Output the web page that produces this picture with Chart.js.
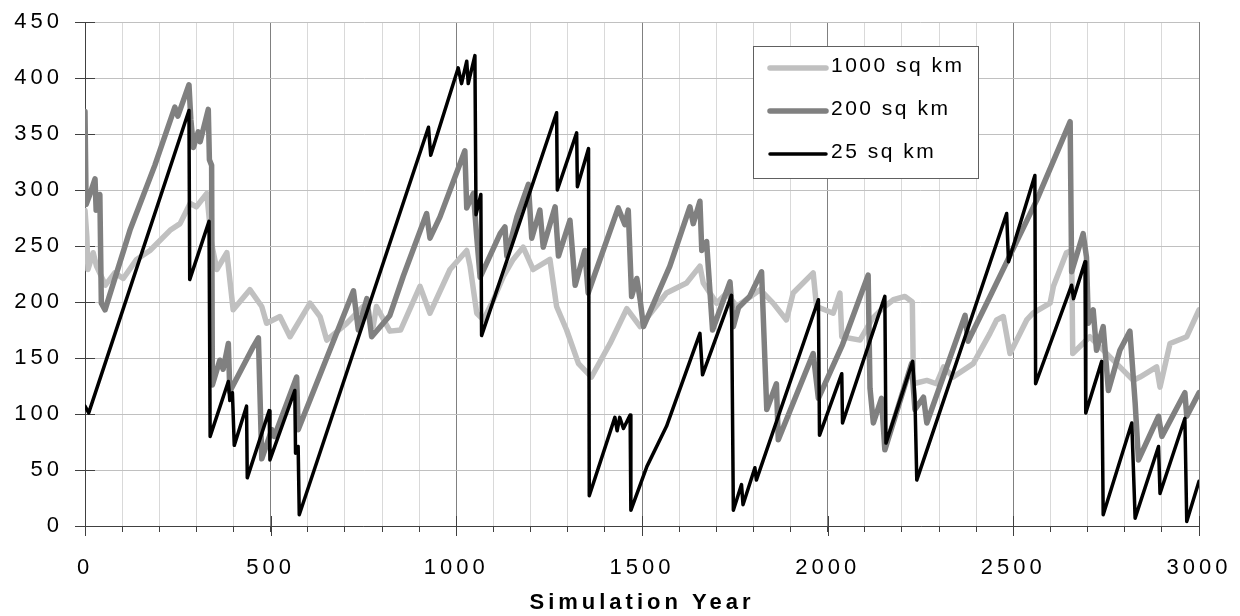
<!DOCTYPE html>
<html>
<head>
<meta charset="utf-8">
<script src="https://cdn.jsdelivr.net/npm/chart.js@4.4.1/dist/chart.umd.min.js"></script>
<style>
    html, body { margin: 0; padding: 0; background: #fff; }
    #wrap { width: 1240px; height: 616px; position: relative; }
</style>
</head>
<body>
<div id="wrap"><canvas id="simChart"></canvas></div>
<script>
// 1000 sq km
const years1000 = [0, 5, 8, 22, 31, 55, 80, 103, 139, 175, 229, 256, 283, 300, 328, 341, 355, 382, 399, 444,
    476, 489, 525, 552, 606, 633, 651, 705, 749, 776, 785, 821, 850, 902, 929, 983, 1028, 1037, 1055, 1073,
    1100, 1127, 1153, 1180, 1207, 1252, 1270, 1297, 1329, 1364, 1414, 1459, 1495, 1566, 1620, 1656, 1665, 1701, 1728, 1755,
    1818, 1853, 1889, 1907, 1961, 1970, 2015, 2033, 2038, 2087, 2120, 2150, 2177, 2208, 2228, 2231, 2267, 2293, 2312, 2338,
    2392, 2437, 2455, 2473, 2491, 2536, 2553, 2599, 2608, 2643, 2657, 2660, 2706, 2760, 2823, 2841, 2886, 2895, 2922, 2967, 3000];
const pop1000 = [282, 258, 229, 244, 232, 215, 226, 221, 238, 246, 264, 270, 288, 285, 297, 252, 229, 244, 193, 211,
    196, 181, 187, 169, 199, 187, 166, 181, 196, 178, 196, 174, 175, 214, 190, 229, 246, 232, 190, 184,
    202, 223, 238, 249, 229, 238, 196, 175, 145, 133, 163, 194, 178, 208, 217, 232, 217, 199, 208, 196,
    211, 199, 184, 208, 226, 196, 190, 208, 169, 166, 185, 195, 202, 205, 200, 127, 130, 127, 142, 133,
    145, 172, 184, 187, 154, 184, 190, 199, 214, 244, 246, 154, 169, 151, 130, 133, 142, 124, 163, 169, 193];

// 200 sq km
const years200 = [0, 3, 13, 27, 30, 40, 44, 54, 121, 188, 242, 250, 280, 285, 292, 305, 310, 332, 335, 341,
    343, 363, 372, 386, 390, 453, 467, 476, 503, 510, 570, 574, 723, 736, 759, 772, 821, 857, 920, 929,
    956, 1023, 1028, 1046, 1055, 1064, 1118, 1131, 1136, 1163, 1194, 1203, 1225, 1234, 1266, 1275, 1306, 1320, 1346, 1355,
    1436, 1454, 1463, 1472, 1486, 1495, 1504, 1575, 1629, 1638, 1656, 1661, 1674, 1679, 1690, 1737, 1746, 1760, 1790, 1822,
    1836, 1862, 1867, 1961, 1975, 2040, 2109, 2114, 2123, 2145, 2154, 2226, 2235, 2258, 2267, 2370, 2378, 2433, 2563, 2653,
    2657, 2688, 2697, 2702, 2715, 2724, 2742, 2756, 2787, 2814, 2828, 2837, 2891, 2900, 2962, 2967, 3000];
const pop200 = [370, 287, 296, 310, 282, 296, 199, 193, 264, 322, 374, 366, 394, 363, 338, 352, 343, 372, 327, 322,
    126, 148, 140, 163, 120, 160, 168, 60, 86, 80, 133, 86, 210, 175, 203, 169, 188, 223, 279, 257,
    276, 335, 284, 297, 258, 222, 261, 267, 241, 276, 305, 257, 282, 249, 285, 241, 273, 215, 246, 208,
    284, 269, 282, 205, 221, 202, 178, 232, 285, 270, 290, 246, 254, 229, 175, 218, 178, 195, 205, 227,
    104, 127, 77, 154, 114, 162, 224, 123, 92, 114, 68, 145, 104, 115, 92, 188, 165, 202, 291, 361,
    227, 261, 240, 181, 193, 157, 178, 121, 157, 174, 110, 59, 98, 80, 119, 98, 119];

// 25 sq km
const years25 = [0, 10, 280, 282, 334, 337, 386, 390, 397, 402, 435, 437, 496, 498, 565, 567, 574, 577, 925, 931,
    1005, 1014, 1028, 1032, 1050, 1053, 1066, 1068, 1270, 1272, 1324, 1326, 1356, 1358, 1427, 1433, 1440, 1450, 1468, 1470,
    1513, 1566, 1656, 1663, 1741, 1746, 1768, 1772, 1804, 1808, 1975, 1978, 2038, 2040, 2154, 2157, 2229, 2235, 2240, 2482,
    2487, 2558, 2560, 2657, 2662, 2693, 2695, 2738, 2742, 2819, 2828, 2891, 2895, 2962, 2967, 3000];
const pop25 = [107, 101, 371, 220, 272, 80, 129, 112, 119, 72, 107, 43, 103, 59, 121, 65, 71, 10, 356, 331,
    409, 395, 415, 395, 420, 278, 296, 170, 369, 300, 351, 303, 337, 27, 97, 85, 97, 87, 99, 14,
    53, 89, 172, 135, 206, 14, 37, 19, 52, 41, 202, 81, 136, 92, 205, 74, 147, 114, 41, 279,
    236, 313, 127, 215, 203, 236, 101, 147, 10, 92, 7, 71, 29, 96, 4, 40];

const xLabels = [0, 500, 1000, 1500, 2000, 2500, 3000];
const yTicks = [0, 50, 100, 150, 200, 250, 300, 350, 400, 450];

function toPoints(xs, ys) {
    return xs.map((x, i) => ({ x: x, y: ys[i] }));
}

// wide, spaced lettering like the original picture
const spacing = {
    id: 'spacing',
    beforeUpdate(chart) { chart.ctx.letterSpacing = '4px'; },
    beforeDraw(chart) { chart.ctx.letterSpacing = '4px'; }
};

// tick marks that cross the axis lines
const crossTicks = {
    id: 'crossTicks',
    beforeDatasetsDraw(chart) {
        const { ctx, scales: { x, y } } = chart;
        ctx.save();
        ctx.strokeStyle = '#404040';
        ctx.lineWidth = 1;
        ctx.beginPath();
        xLabels.forEach(v => {
            const px = Math.round(x.getPixelForValue(v)) + 0.5;
            ctx.moveTo(px, y.bottom - 10);
            ctx.lineTo(px, y.bottom + 10);
        });
        yTicks.forEach(v => {
            const py = Math.round(y.getPixelForValue(v)) + 0.5;
            ctx.moveTo(x.left, py);
            ctx.lineTo(x.left + 10, py);
        });
        ctx.stroke();
        ctx.restore();
    }
};

// boxed legend in the upper right of the plot
const boxLegend = {
    id: 'boxLegend',
    afterDatasetsDraw(chart) {
        const { ctx, chartArea } = chart;
        const left = chartArea.left + 668;
        const top = chartArea.top + 24;
        ctx.save();
        ctx.fillStyle = '#fff';
        ctx.fillRect(left, top, 225, 132);
        ctx.strokeStyle = '#606060';
        ctx.lineWidth = 1;
        ctx.strokeRect(left + 0.5, top + 0.5, 225, 132);
        ctx.letterSpacing = '2.5px';
        ctx.font = '21px "Liberation Sans", Arial, sans-serif';
        ctx.textBaseline = 'middle';
        chart.data.datasets.forEach((ds, i) => {
            const ly = top + 22 + i * 43;
            ctx.strokeStyle = ds.borderColor;
            ctx.lineWidth = ds.borderWidth;
            ctx.lineCap = 'round';
            ctx.beginPath();
            ctx.moveTo(left + 17, ly);
            ctx.lineTo(left + 73, ly);
            ctx.stroke();
            ctx.fillStyle = '#000';
            ctx.fillText(ds.label, left + 78, ly - 2);
        });
        ctx.restore();
    }
};

const ctx = document.getElementById('simChart').getContext('2d');

new Chart(ctx, {
    type: 'line',
    data: {
        datasets: [{
            label: '1000 sq km',
            data: toPoints(years1000, pop1000),
            borderColor: '#c0c0c0',
            borderWidth: 5.5,
            order: 3
        }, {
            label: '200 sq km',
            data: toPoints(years200, pop200),
            borderColor: '#808080',
            borderWidth: 5.5,
            order: 2
        }, {
            label: '25 sq km',
            data: toPoints(years25, pop25),
            borderColor: '#000000',
            borderWidth: 3.5,
            order: 1
        }]
    },
    options: {
        responsive: true,
        maintainAspectRatio: false,
        animation: false,
        layout: { padding: { left: 0, right: 41, top: 22, bottom: 0 } },
        elements: {
            point: { radius: 0 },
            line: { tension: 0, borderJoinStyle: 'round', borderCapStyle: 'round' }
        },
        plugins: {
            legend: { display: false },
            tooltip: { enabled: false }
        },
        scales: {
            x: {
                type: 'linear',
                min: 0,
                max: 3000,
                afterFit: scale => {
                    scale.height = 90;
                    scale.paddingLeft = 0;
                    scale.paddingRight = 0;
                },
                ticks: {
                    stepSize: 100,
                    autoSkip: false,
                    maxRotation: 0,
                    padding: 23,
                    color: '#000',
                    font: { family: '"Liberation Sans", Arial, sans-serif', size: 22 },
                    callback: value => xLabels.includes(value) ? String(value) : ''
                },
                grid: {
                    color: c => (c.tick && c.tick.value % 500 === 0) ? '#808080' : '#d9d9d9',
                    tickColor: '#404040',
                    tickLength: 6
                },
                border: { color: '#404040' },
                title: {
                    display: true,
                    text: 'Simulation Year',
                    color: '#000',
                    font: { family: '"Liberation Sans", Arial, sans-serif', size: 22, weight: 'bold' },
                    padding: { top: 0, bottom: 0 }
                }
            },
            y: {
                min: 0,
                max: 450,
                afterFit: scale => {
                    scale.width = 85;
                    scale.paddingTop = 0;
                    scale.paddingBottom = 0;
                },
                ticks: {
                    stepSize: 50,
                    padding: 12,
                    color: '#000',
                    font: { family: '"Liberation Sans", Arial, sans-serif', size: 22 }
                },
                grid: {
                    color: '#c0c0c0',
                    tickColor: '#404040',
                    tickLength: 10
                },
                border: { color: '#404040' }
            }
        }
    },
    plugins: [spacing, crossTicks, boxLegend]
});
</script>
</body>
</html>
